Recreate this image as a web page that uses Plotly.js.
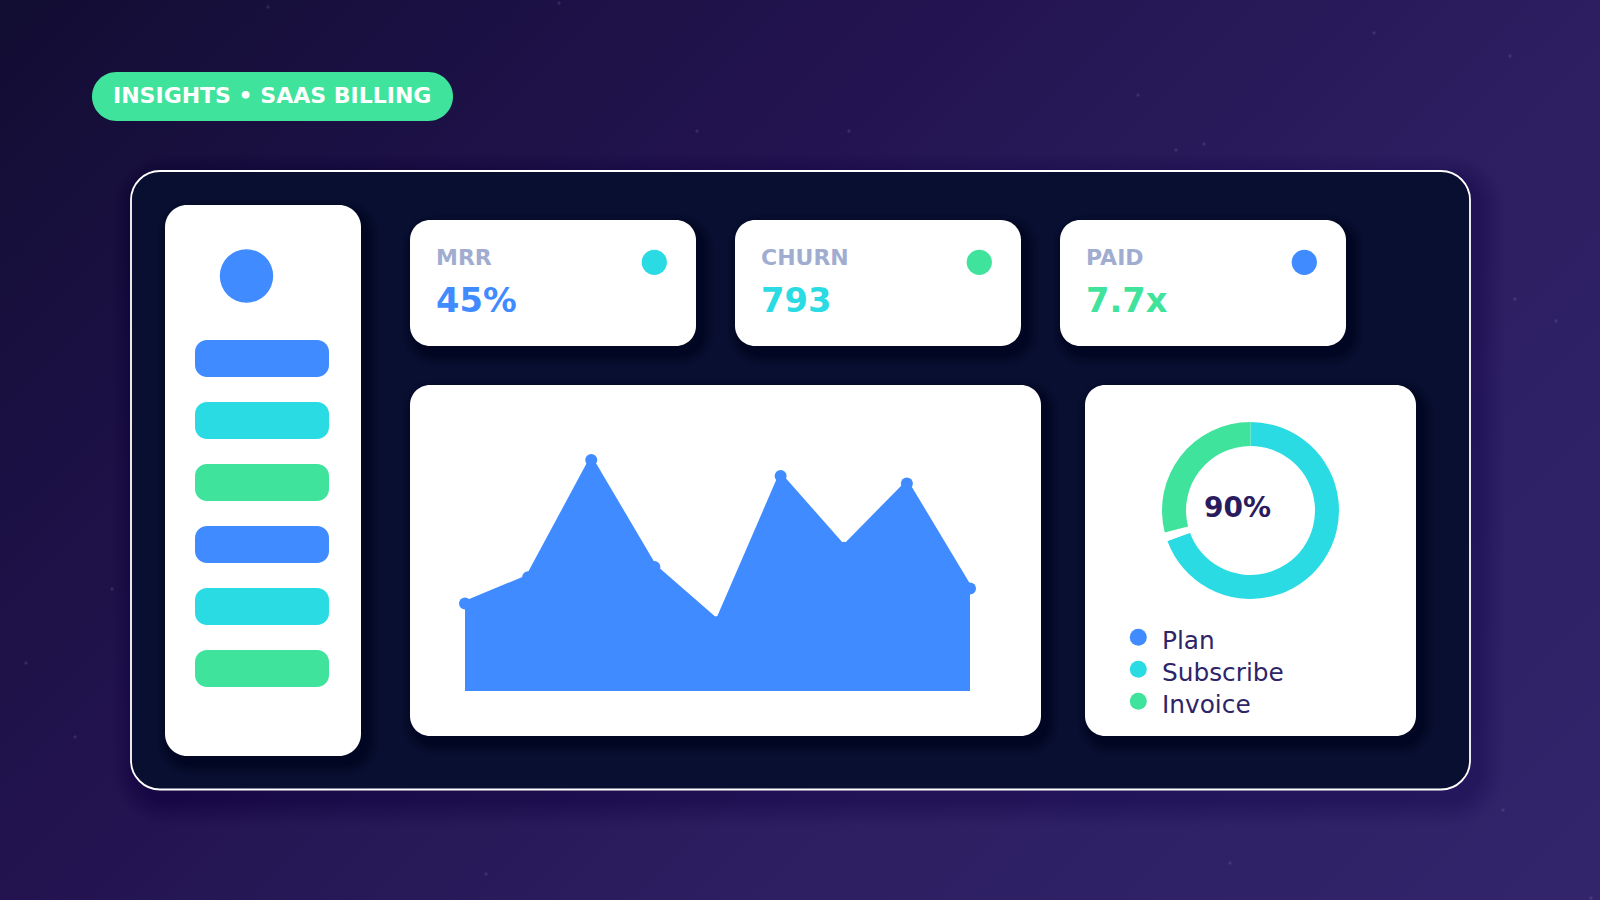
<!DOCTYPE html>
<html>
<head>
<meta charset="utf-8">
<script src="https://cdn.plot.ly/plotly-3.0.1.min.js"></script>
<style>
html,body{margin:0;padding:0;width:1600px;height:900px;overflow:hidden;
background:linear-gradient(135deg,#120d33 0%,#22134f 35%,#2c1e60 65%,#32256c 100%);}
#chart{width:1600px;height:900px;}
</style>
</head>
<body>
<div id="chart"></div>
<script>
// ---- data ----
const periods = [1, 2, 3, 4, 5, 6, 7, 8, 9];
const areaValues = [35, 45.5, 92.4, 49.6, 27.6, 86, 57.3, 83, 41];
const donutLabels = ["Subscribe", "Plan", "Invoice"];
const donutValues = [69.4, 1.6, 29.0];
const donutCenterText = "90%";
const legendLabels = ["Plan", "Subscribe", "Invoice"];
const kpiLabels = ["MRR", "CHURN", "PAID"];
const kpiValues = ["45%", "793", "7.7x"];
const badgeText = "INSIGHTS \u2022 SAAS BILLING";
const speckX = [268, 559, 697, 849, 1176, 1204, 1138, 1510, 1374, 1515, 1556, 112, 26, 75, 486, 1230, 1503, 1591];
const speckY = [7, 3, 131, 131, 150, 144, 95, 56, 33, 299, 321, 589, 663, 737, 874, 863, 810, 898];

// ---- palette ----
const BLUE = "#3f8bff", CYAN = "#2adbe3", GREEN = "#3fe39b";
const INK = "#2a1b5e", LEGEND_INK = "#2e2568", MUTED = "#a1add0", PANEL = "#090f31";
const FONT = "DejaVu Sans";

// ---- helpers for the page furniture ----
function rrPath(x0, y0, x1, y1, r) {
  const k = r * 0.448;
  return `M${x0 + r},${y0} L${x1 - r},${y0} C${x1 - k},${y0} ${x1},${y0 + k} ${x1},${y0 + r} ` +
    `L${x1},${y1 - r} C${x1},${y1 - k} ${x1 - k},${y1} ${x1 - r},${y1} ` +
    `L${x0 + r},${y1} C${x0 + k},${y1} ${x0},${y1 - k} ${x0},${y1 - r} ` +
    `L${x0},${y0 + r} C${x0},${y0 + k} ${x0 + k},${y0} ${x0 + r},${y0} Z`;
}
const shapes = [];
function rr(x0, y0, x1, y1, r, fill, line) {
  shapes.push({type: "path", xref: "x", yref: "y", layer: "below", path: rrPath(x0, y0, x1, y1, r),
    fillcolor: fill, line: line || {width: 0}});
}
function shadow(x0, y0, x1, y1, r, dx, dy, blur, alpha, steps) {
  for (let i = 0; i < steps; i++) {
    const g = blur * (1 - i / steps);
    shapes.push({type: "path", xref: "x", yref: "y", layer: "below",
      path: rrPath(x0 + dx - g, y0 + dy - g, x1 + dx + g, y1 + dy + g, r + g),
      fillcolor: `rgba(0,0,0,${alpha})`, line: {width: 0}});
  }
}
function dot(cx, cy, r, fill) {
  shapes.push({type: "circle", xref: "x", yref: "y", layer: "below",
    x0: cx - r, x1: cx + r, y0: cy - r, y1: cy + r, fillcolor: fill, line: {width: 0}});
}
const notes = [];
function label(x, baseline, text, size, color, bold) {
  notes.push({xref: "x", yref: "y", x: x, y: baseline - size * 0.36, text: bold ? `<b>${text}</b>` : text,
    xanchor: "left", yanchor: "middle", showarrow: false, borderpad: 0,
    font: {family: FONT, size: size, color: color}});
}

// badge
rr(92, 72, 453, 121, 24.5, GREEN);
label(112, 103, badgeText, 22, "#ffffff", true);

// main panel
shadow(131, 171, 1470, 789.5, 29, 8, 10, 26, 0.008, 12);
rr(131, 171, 1470, 789.5, 29, PANEL, {color: "#ffffff", width: 1.8});

// sidebar
shadow(165, 205, 361, 756, 22, 5, 7, 13, 0.026, 8);
rr(165, 205, 361, 756, 22, "#ffffff");
dot(246.5, 276, 26.7, BLUE);
[[340, BLUE], [402, CYAN], [464, GREEN], [526, BLUE], [588, CYAN], [650, GREEN]].forEach(b =>
  rr(195, b[0], 329, b[0] + 37, 12, b[1]));

// KPI cards
const kpiLeft = [410, 735, 1060];
const kpiDot = [CYAN, GREEN, BLUE];
const kpiText = [BLUE, CYAN, GREEN];
kpiLabels.forEach((t, i) => {
  const x = kpiLeft[i];
  shadow(x, 220, x + 286, 346, 20, 5, 7, 13, 0.026, 8);
  rr(x, 220, x + 286, 346, 20, "#ffffff");
  dot(x + 244.3, 262.3, 12.6, kpiDot[i]);
  label(x + 25, 265.3, t, 22, MUTED, true);
  label(x + 24.5, 312.7, kpiValues[i], 33.7, kpiText[i], true);
});

// chart and donut cards
shadow(410, 385, 1041, 736, 20, 5, 7, 13, 0.026, 8);
rr(410, 385, 1041, 736, 20, "#ffffff");
shadow(1085, 385, 1416, 736, 20, 5, 7, 13, 0.026, 8);
rr(1085, 385, 1416, 736, 20, "#ffffff");

label(1203, 518, donutCenterText, 28, INK, true);
const legendY = [637.3, 669.3, 701.3];
legendLabels.forEach((t, i) => label(1160.5, legendY[i] + 12, t, 24.8, LEGEND_INK, false));

// ---- traces ----
const data = [
  {type: "scatter", mode: "markers", x: speckX, y: speckY, xaxis: "x", yaxis: "y", hoverinfo: "skip",
    marker: {size: 3.5, color: "rgba(190,180,240,0.14)"}, showlegend: false},
  {type: "scatter", mode: "markers", x: [1138.3, 1138.3, 1138.3], y: legendY, xaxis: "x", yaxis: "y", hoverinfo: "skip",
    marker: {size: 17, color: [BLUE, CYAN, GREEN]}, showlegend: false},
  {type: "scatter", mode: "lines+markers", x: periods, y: areaValues, xaxis: "x2", yaxis: "y2", hoverinfo: "skip",
    fill: "tozeroy", fillcolor: BLUE, line: {color: BLUE, width: 5}, marker: {size: 12, color: BLUE},
    showlegend: false, cliponaxis: false},
  {type: "pie", labels: donutLabels, values: donutValues, sort: false, direction: "clockwise", rotation: 0,
    hole: 0.729, textinfo: "none", hoverinfo: "skip", showlegend: false,
    marker: {colors: [CYAN, "#ffffff", GREEN], line: {width: 0}},
    domain: {x: [1162 / 1600, 1339 / 1600], y: [(900 - 599) / 900, (900 - 422) / 900]}}
];

const hidden = {visible: false, fixedrange: true, showgrid: false, zeroline: false};
const layout = {
  width: 1600, height: 900, margin: {l: 0, r: 0, t: 0, b: 0}, autosize: false,
  paper_bgcolor: "rgba(0,0,0,0)", plot_bgcolor: "rgba(0,0,0,0)", showlegend: false,
  xaxis: Object.assign({range: [0, 1600], domain: [0, 1]}, hidden),
  yaxis: Object.assign({range: [900, 0], domain: [0, 1]}, hidden),
  xaxis2: Object.assign({range: [1, 9], domain: [465 / 1600, 970 / 1600], anchor: "y2"}, hidden),
  yaxis2: Object.assign({range: [0, 100], domain: [(900 - 691) / 900, (900 - 441) / 900], anchor: "x2"}, hidden),
  shapes: shapes, annotations: notes
};
Plotly.newPlot("chart", data, layout, {displayModeBar: false, staticPlot: true, responsive: false});
</script>
</body>
</html>
